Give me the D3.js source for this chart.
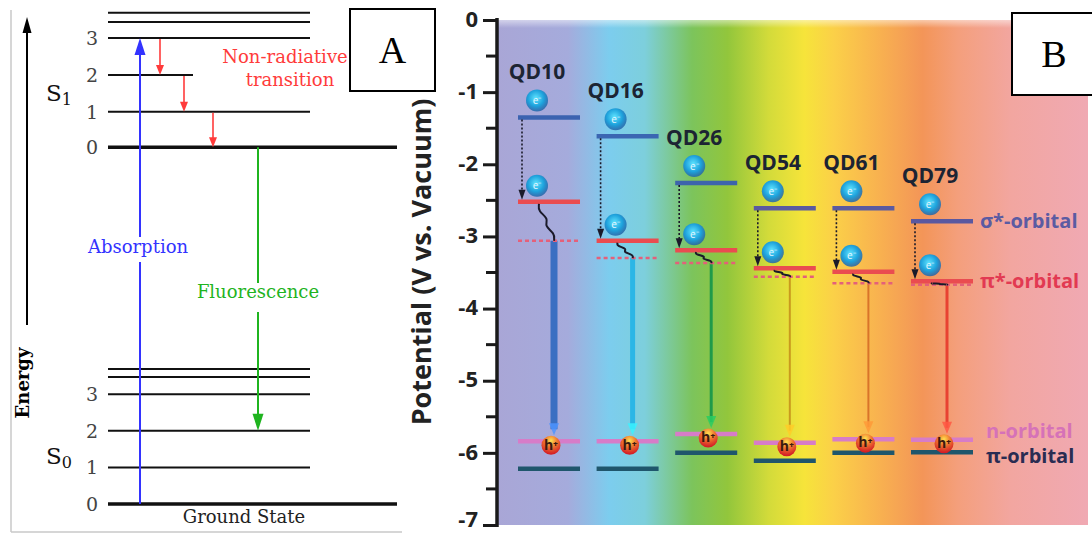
<html>
<head>
<meta charset="utf-8">
<title>Jablonski diagram and QD energy levels</title>
<style>
  body { margin: 0; background: #fff; }
  svg { display: block; }
</style>
</head>
<body>
<script src="https://cdn.jsdelivr.net/npm/d3@7"></script>
<script>
// ---- panel A data (energies in level units) ----
var s0Levels = [0, 1, 2, 3];
var s0Extra = [3.47, 3.69];
var s1Levels = [9.75, 10.72, 11.72, 12.73];
var s1Extra = [13.17, 13.42];
var levelLabels = ["0", "1", "2", "3"];

// ---- panel B data (V vs. vacuum) ----
var qdNames = ["QD10", "QD16", "QD26", "QD54", "QD61", "QD79"];
var sigmaStar = [-1.35, -1.61, -2.26, -2.61, -2.61, -2.79];
var piStar = [-2.52, -3.06, -3.19, -3.44, -3.49, -3.62];
var piStarRelaxed = [-3.06, -3.30, -3.37, -3.56, -3.65, -3.67];
var nOrbital = [-5.84, -5.84, -5.74, -5.86, -5.81, -5.82];
var piOrbital = [-6.22, -6.22, -6.00, -6.11, -6.00, -5.99];
var potentialTicks = [0, -1, -2, -3, -4, -5, -6, -7];

var emitColors = ["#3a6fc2", "#2cb6e6", "#1f9a4a", "#c99a1e", "#d9742a", "#e84232"];
var emitWidths = [7, 5, 3, 2, 2, 3];
var sigmaColors = ["#3b63b0", "#3b66b2", "#3d64ac", "#5a5aa0", "#5a5aa0", "#5a58a0"];

var width = 1092, height = 534;
var svg = d3.select("body").append("svg")
    .attr("width", width)
    .attr("height", height);

var defs = svg.append("defs");

// ================= Panel A =================
var serif = "'DejaVu Serif', serif";
var yA = d3.scaleLinear().domain([0, 14]).range([504, -8.4]);

// frame
svg.append("line").attr("x1", 11).attr("y1", 10).attr("x2", 11).attr("y2", 532)
    .attr("stroke", "#c8c8c8").attr("stroke-width", 1.5);
svg.append("line").attr("x1", 11).attr("y1", 532).attr("x2", 402).attr("y2", 532)
    .attr("stroke", "#c8c8c8").attr("stroke-width", 1.5);

// energy arrow
svg.append("line").attr("x1", 27).attr("y1", 325).attr("x2", 27).attr("y2", 30)
    .attr("stroke", "#000").attr("stroke-width", 2);
svg.append("path").attr("d", "M27,17 L22.5,33 L31.5,33 Z").attr("fill", "#000");
svg.append("text")
    .attr("transform", "translate(29,383) rotate(-90)")
    .attr("text-anchor", "middle")
    .attr("font-family", serif)
    .attr("font-weight", "bold")
    .attr("font-size", 18)
    .text("Energy");

function levelLines(levels, x2) {
    svg.selectAll(null).data(levels).enter().append("line")
        .attr("x1", 108)
        .attr("x2", function (d, i) { return typeof x2 === "function" ? x2(d, i) : x2; })
        .attr("y1", function (d) { return yA(d); })
        .attr("y2", function (d) { return yA(d); })
        .attr("stroke", "#111")
        .attr("stroke-width", function (d, i) { return i === 0 && typeof x2 === "function" ? 3.5 : 2; });
}
levelLines(s0Levels, function (d, i) { return i === 0 ? 397 : 310; });
levelLines(s0Extra, 310);
levelLines(s1Levels, function (d, i) { return i === 0 ? 397 : (i === 2 ? 193 : 310); });
levelLines(s1Extra, 310);

// level numbers
[s0Levels, s1Levels].forEach(function (lv) {
    svg.selectAll(null).data(lv).enter().append("text")
        .attr("x", 98)
        .attr("y", function (d) { return yA(d) + 7; })
        .attr("text-anchor", "end")
        .attr("font-family", serif)
        .attr("font-size", 19)
        .attr("fill", "#444")
        .text(function (d, i) { return levelLabels[i]; });
});

// state names
function stateName(label, sub, y) {
    var t = svg.append("text").attr("x", 46).attr("y", y)
        .attr("font-family", serif).attr("font-size", 23).attr("fill", "#111");
    t.append("tspan").text(label);
    t.append("tspan").attr("font-size", 16).attr("dy", 4).text(sub);
}
stateName("S", "1", yA((s1Levels[1] + s1Levels[2]) / 2) + 8);
stateName("S", "0", yA(s0Levels[1]) - 3);

svg.append("text").attr("x", 244).attr("y", 523)
    .attr("text-anchor", "middle")
    .attr("font-family", serif).attr("font-size", 18).attr("fill", "#222")
    .text("Ground State");

// absorption (blue)
var absY1 = yA(s0Levels[0]), absY2 = yA(s1Levels[3]);
svg.append("line").attr("x1", 140).attr("x2", 140).attr("y1", absY1).attr("y2", 262)
    .attr("stroke", "#3333ff").attr("stroke-width", 2);
svg.append("line").attr("x1", 140).attr("x2", 140).attr("y1", 237).attr("y2", absY2 + 14)
    .attr("stroke", "#3333ff").attr("stroke-width", 2);
svg.append("path").attr("d", "M140," + absY2 + " L134.5," + (absY2 + 17) + " L145.5," + (absY2 + 17) + " Z")
    .attr("fill", "#3333ff");
svg.append("text").attr("x", 138).attr("y", 253)
    .attr("text-anchor", "middle").attr("font-family", serif).attr("font-size", 18)
    .attr("fill", "#3333ff").text("Absorption");

// fluorescence (green)
var flY1 = yA(s1Levels[0]), flY2 = yA(s0Levels[2]);
svg.append("line").attr("x1", 258).attr("x2", 258).attr("y1", flY1).attr("y2", 283)
    .attr("stroke", "#1fb41f").attr("stroke-width", 2);
svg.append("line").attr("x1", 258).attr("x2", 258).attr("y1", 312).attr("y2", flY2 - 14)
    .attr("stroke", "#1fb41f").attr("stroke-width", 2);
svg.append("path").attr("d", "M258," + flY2 + " L252.5," + (flY2 - 17) + " L263.5," + (flY2 - 17) + " Z")
    .attr("fill", "#1fb41f");
svg.append("text").attr("x", 258).attr("y", 298)
    .attr("text-anchor", "middle").attr("font-family", serif).attr("font-size", 18)
    .attr("fill", "#1fb41f").text("Fluorescence");

// non-radiative (red)
var nrX = [160, 184, 213];
nrX.forEach(function (x, i) {
    var y1 = yA(s1Levels[3 - i]) + 1, y2 = yA(s1Levels[2 - i]);
    svg.append("line").attr("x1", x).attr("x2", x).attr("y1", y1).attr("y2", y2 - 8)
        .attr("stroke", "#ff3b3b").attr("stroke-width", 1.6);
    svg.append("path").attr("d", "M" + x + "," + y2 + " L" + (x - 4) + "," + (y2 - 10) + " L" + (x + 4) + "," + (y2 - 10) + " Z")
        .attr("fill", "#ff3b3b");
});
svg.append("text").attr("x", 285).attr("y", 63)
    .attr("text-anchor", "middle").attr("font-family", serif).attr("font-size", 18)
    .attr("fill", "#ff3b3b").text("Non-radiative");
svg.append("text").attr("x", 290).attr("y", 86)
    .attr("text-anchor", "middle").attr("font-family", serif).attr("font-size", 18)
    .attr("fill", "#ff3b3b").text("transition");

// ================= Panel B =================
var sans = "'Open Sans', sans-serif";
var y = d3.scaleLinear().domain([0, -7]).range([20, 525]);
var x = d3.scalePoint().domain(qdNames).range([549, 942]);
var halfW = 31;

var grad = defs.append("linearGradient").attr("id", "spectrum")
    .attr("x1", "0%").attr("x2", "100%").attr("y1", "0%").attr("y2", "0%");
[[0, "#a9a6d6"], [0.12, "#a5abdc"], [0.19, "#7ccdee"], [0.25, "#7dcfdc"],
 [0.33, "#7cc45c"], [0.39, "#92c63c"], [0.46, "#d3db3a"], [0.52, "#f6e43a"],
 [0.57, "#fbd048"], [0.65, "#f8b050"], [0.72, "#f39558"], [0.78, "#f49f7c"],
 [0.87, "#f2a6a0"], [1, "#f0a9b3"]].forEach(function (s) {
    grad.append("stop").attr("offset", s[0]).attr("stop-color", s[1]);
});
var fade = defs.append("linearGradient").attr("id", "topfade")
    .attr("x1", "0%").attr("x2", "0%").attr("y1", "0%").attr("y2", "100%");
fade.append("stop").attr("offset", 0).attr("stop-color", "#fff").attr("stop-opacity", 0.5);
fade.append("stop").attr("offset", 1).attr("stop-color", "#fff").attr("stop-opacity", 0);

svg.append("rect").attr("x", 497).attr("y", y(0)).attr("width", 591).attr("height", y(-7) - y(0))
    .attr("fill", "url(#spectrum)");
svg.append("rect").attr("x", 497).attr("y", y(0)).attr("width", 591).attr("height", 8)
    .attr("fill", "url(#topfade)");

// axis
var minorTicks = d3.range(0, 7).map(function (d) { return -d - 0.5; });
var axis = d3.axisLeft(y).tickValues(potentialTicks).tickSize(14).tickPadding(5)
    .tickFormat(function (d) { return d === 0 ? "0" : "-" + Math.abs(d); });
var gAxis = svg.append("g").attr("transform", "translate(497,0)").call(axis);
gAxis.select(".domain").attr("stroke", "#1a1a1a").attr("stroke-width", 3.5)
    .attr("d", "M0," + (y(0) - 2) + "V" + (y(-7) + 2));
gAxis.selectAll(".tick line").attr("stroke", "#1a1a1a").attr("stroke-width", 3);
gAxis.selectAll(".tick text").attr("font-family", sans).attr("font-weight", "bold")
    .attr("font-size", 22).attr("fill", "#222")
    .attr("dy", function (d) { return d === -7 ? "0.05em" : "0.28em"; });
svg.append("g").selectAll("line").data(minorTicks).enter().append("line")
    .attr("x1", 486).attr("x2", 497)
    .attr("y1", function (d) { return y(d); }).attr("y2", function (d) { return y(d); })
    .attr("stroke", "#1a1a1a").attr("stroke-width", 3);
svg.append("text")
    .attr("transform", "translate(431,262) rotate(-90)")
    .attr("text-anchor", "middle")
    .attr("font-family", sans).attr("font-weight", "bold").attr("font-size", 27)
    .attr("fill", "#222")
    .text("Potential (V vs. Vacuum)");

// ball gradients
var eg = defs.append("radialGradient").attr("id", "eball").attr("cx", "45%").attr("cy", "40%").attr("r", "60%");
eg.append("stop").attr("offset", 0).attr("stop-color", "#5fe4ff");
eg.append("stop").attr("offset", 0.6).attr("stop-color", "#1ea2dc");
eg.append("stop").attr("offset", 1).attr("stop-color", "#2464a8").attr("stop-opacity", 0.85);
var hg = defs.append("radialGradient").attr("id", "hball").attr("cx", "50%").attr("cy", "25%").attr("r", "70%");
hg.append("stop").attr("offset", 0).attr("stop-color", "#ffe050");
hg.append("stop").attr("offset", 0.45).attr("stop-color", "#f07a30");
hg.append("stop").attr("offset", 1).attr("stop-color", "#d41f26");

var qd = qdNames.map(function (n, i) {
    return { name: n, cx: x(n), sig: sigmaStar[i], pis: piStar[i], rel: piStarRelaxed[i],
             n: nOrbital[i], pi: piOrbital[i], color: emitColors[i], w: emitWidths[i],
             sigColor: sigmaColors[i] };
});

var g = svg.append("g").selectAll("g").data(qd).enter().append("g");

// emission arrows
g.append("line")
    .attr("x1", function (d) { return d.cx + 5; }).attr("x2", function (d) { return d.cx + 5; })
    .attr("y1", function (d) { return y(d.rel); })
    .attr("y2", function (d) { return y(d.n) - 12; })
    .attr("stroke", function (d) { return d.color; })
    .attr("stroke-width", function (d) { return d.w; });
g.append("path")
    .attr("d", function (d) {
        var ax = d.cx + 5, ay = y(d.n) - 6;
        return "M" + ax + "," + ay + " L" + (ax - 5) + "," + (ay - 12) + " L" + (ax + 5) + "," + (ay - 12) + " Z";
    })
    .attr("fill", function (d) { return d3.color(d.color).brighter(0.8); })
    .attr("opacity", 0.85);

// relaxed pi* (dotted)
g.append("line")
    .attr("x1", function (d) { return d.cx - halfW; }).attr("x2", function (d) { return d.cx + halfW - 2; })
    .attr("y1", function (d) { return y(d.rel); }).attr("y2", function (d) { return y(d.rel); })
    .attr("stroke", "#e4607a").attr("stroke-width", 2.5).attr("stroke-dasharray", "4,3");

// level lines
function level(key, color, sw) {
    g.append("line")
        .attr("x1", function (d) { return d.cx - halfW; }).attr("x2", function (d) { return d.cx + halfW; })
        .attr("y1", function (d) { return y(d[key]); }).attr("y2", function (d) { return y(d[key]); })
        .attr("stroke", color).attr("stroke-width", sw);
}
level("sig", function (d) { return d.sigColor; }, 4.5);
level("pis", "#ea4c50", 4.5);
level("n", "#d77cc8", 4.5);
level("pi", "#1f566c", 4.5);

// dotted relaxation arrows sigma* -> pi*
g.append("line")
    .attr("x1", function (d) { return d.cx - 27; }).attr("x2", function (d) { return d.cx - 27; })
    .attr("y1", function (d) { return y(d.sig) + 2; })
    .attr("y2", function (d) { return y(d.pis) - 10; })
    .attr("stroke", "#1a1a2a").attr("stroke-width", 1.6).attr("stroke-dasharray", "2,2");
g.append("path")
    .attr("d", function (d) {
        var ax = d.cx - 27, ay = y(d.pis) - 2;
        return "M" + ax + "," + ay + " L" + (ax - 3.5) + "," + (ay - 10) + " L" + (ax + 3.5) + "," + (ay - 10) + " Z";
    })
    .attr("fill", "#1a1a2a");

// squiggle pi* -> relaxed
g.append("path")
    .attr("d", function (d) {
        var x0 = d.cx - 10, y0 = y(d.pis) + 2, x1 = d.cx + 5, y1 = y(d.rel);
        var n = 5, pts = [];
        for (var k = 0; k <= n; k++) {
            var t = k / n;
            var off = (k === 0 || k === n) ? 0 : (k % 2 ? -4 : 4);
            pts.push([x0 + (x1 - x0) * t + off, y0 + (y1 - y0) * t]);
        }
        return d3.line().curve(d3.curveBasis)(pts);
    })
    .attr("fill", "none").attr("stroke", "#1a1a2a").attr("stroke-width", 2);

// electrons
function electron(key, dy) {
    var e = g.append("g").attr("transform", function (d) {
        return "translate(" + (d.cx - 12) + "," + (y(d[key]) - dy) + ")";
    });
    e.append("circle").attr("r", 11).attr("fill", "url(#eball)");
    e.append("text").attr("text-anchor", "middle").attr("dy", "0.35em")
        .attr("font-family", sans).attr("font-size", 10).attr("fill", "#e8f6ff").text("e⁻");
}
electron("sig", 17);
electron("pis", 16);

// holes
var h = g.append("g").attr("transform", function (d) {
    return "translate(" + (d.cx + 2) + "," + (y(d.n) + 4) + ")";
});
h.append("circle").attr("r", 9.5).attr("fill", "url(#hball)");
h.append("text").attr("text-anchor", "middle").attr("dy", "0.3em")
    .attr("font-family", sans).attr("font-weight", "bold").attr("font-size", 14)
    .attr("fill", "#3a1a10").text("h⁺");

// QD labels
g.append("text")
    .attr("x", function (d) { return d.cx - 12; })
    .attr("y", function (d) { return y(d.sig) - 38; })
    .attr("text-anchor", "middle")
    .attr("font-family", sans).attr("font-weight", "bold").attr("font-size", 21)
    .attr("fill", "#1c2433")
    .text(function (d) { return d.name; });

// orbital labels
var last = qd[qd.length - 1];
var orbLabels = [["σ*-orbital", last.sig, "#5b5ba2", 980],
                 ["π*-orbital", last.pis, "#e23a52", 980],
                 ["n-orbital", last.n + 0.12, "#d672b8", 986],
                 ["π-orbital", last.pi - 0.05, "#2a2c52", 986]];
svg.append("g").selectAll("text").data(orbLabels).enter().append("text")
    .attr("x", function (d) { return d[3]; })
    .attr("y", function (d) { return y(d[1]); })
    .attr("dy", "0.35em")
    .attr("font-family", sans).attr("font-weight", "bold").attr("font-size", 20)
    .attr("fill", function (d) { return d[2]; })
    .text(function (d) { return d[0]; });

// ================= panel letters =================
function letterBox(x0, y0, w, h, txt) {
    svg.append("rect").attr("x", x0).attr("y", y0).attr("width", w).attr("height", h)
        .attr("fill", "#fff").attr("stroke", "#000").attr("stroke-width", 2);
    svg.append("text").attr("x", x0 + w / 2).attr("y", y0 + h / 2 + 13)
        .attr("text-anchor", "middle")
        .attr("font-family", "'Liberation Serif', serif").attr("font-size", 38)
        .text(txt);
}
letterBox(350, 9, 85, 82, "A");
letterBox(1012, 13, 84, 82, "B");
</script>
</body>
</html>
